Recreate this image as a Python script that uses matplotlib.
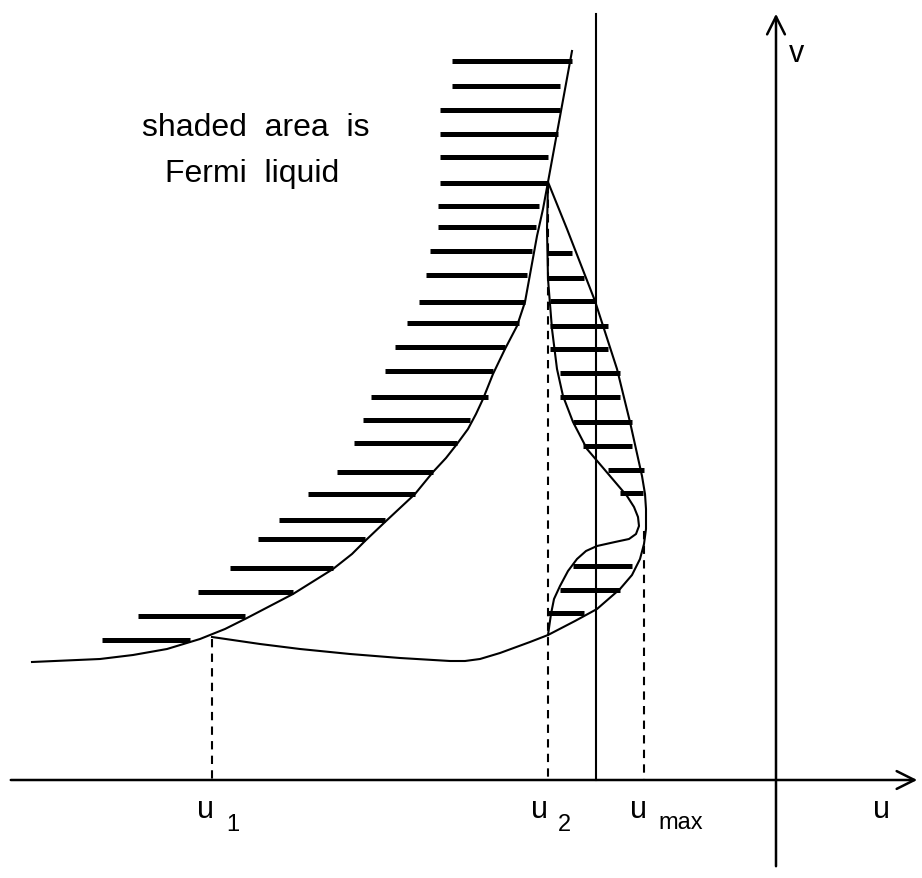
import matplotlib.pyplot as plt

plt.rcParams['font.family'] = ['Liberation Sans', 'DejaVu Sans']

# picture coordinates (pixels, y grows downward)
# hatching of the big left region: y, x start, x end
hatch_l_y = [62, 87, 111, 135, 158, 184, 207, 228, 252, 276, 303, 324, 348, 372,
             398, 421, 444, 473, 495, 521, 540, 569, 593, 617, 641]
hatch_l_x0 = [452, 452, 440, 440, 440, 440, 438, 438, 430, 426, 419, 407, 395, 385,
              371, 363, 354, 337, 308, 279, 258, 230, 198, 138, 102]
hatch_l_x1 = [572, 560, 560, 558, 548, 548, 539, 536, 532, 527, 525, 519, 505, 493,
              488, 470, 457, 433, 415, 385, 365, 333, 293, 245, 190]

# hatching of the small right pocket
hatch_r_y = [254, 279, 302, 327, 350, 374, 398, 423, 447, 471, 494, 567, 591, 614]
hatch_r_x0 = [547, 548, 550, 550, 550, 560, 560, 573, 583, 608, 620, 573, 560, 548]
hatch_r_x1 = [572, 584, 595, 608, 608, 620, 620, 632, 632, 644, 643, 632, 620, 584]

# left boundary curve (bottom left up to the cusp, then straight to top)
main_x = [32, 100, 133, 167, 200, 225, 247, 270, 293, 333, 352, 365, 385, 415, 433,
          446, 457, 468, 476, 483, 493, 505, 517, 525, 531, 537, 543, 548, 572]
main_y = [663, 660, 656, 650, 640, 630, 619, 607, 595, 570, 555, 542, 523, 495, 473,
          459, 445, 430, 415, 400, 375, 350, 327, 303, 270, 237, 210, 183, 52]

# lower curve from u1 round the right side back up to the cusp
outer_x = [212, 260, 300, 350, 400, 450, 465, 480, 500, 530, 548, 575, 597, 620, 632,
           640, 644, 646, 646, 645, 642, 636, 630, 617, 595, 567, 548]
outer_y = [638, 645, 650, 655, 659, 662, 662, 660, 654, 643, 636, 622, 610, 590, 576,
           560, 545, 530, 510, 495, 477, 450, 423, 370, 302, 230, 183]

# inner S-shaped curve from the cusp down to u2
inner_x = [548, 547, 548, 552, 557, 563, 573, 587, 610, 627, 634, 638, 639, 636, 629,
           615, 597, 586, 577, 568, 560, 554, 551, 548]
inner_y = [183, 230, 280, 330, 370, 397, 423, 450, 477, 497, 508, 518, 527, 535, 540,
           543, 547, 552, 560, 572, 587, 600, 615, 636]

# dashed verticals: x, top
dash_x = [212, 548, 644]
dash_top = [640, 186, 532]

axis_y = 781
v_axis_x = 776
wall_x = 596

fig = plt.figure(figsize=(9.22, 8.79), dpi=100)
ax = fig.add_axes([0, 0, 1, 1])
ax.set_xlim(0, 922)
ax.set_ylim(879, 0)
ax.axis('off')

for y, x0, x1 in zip(hatch_l_y, hatch_l_x0, hatch_l_x1):
    ax.plot([x0, x1], [y, y], color='black', lw=3.6, solid_capstyle='butt')
for y, x0, x1 in zip(hatch_r_y, hatch_r_x0, hatch_r_x1):
    ax.plot([x0, x1], [y, y], color='black', lw=3.6, solid_capstyle='butt')

ax.plot(main_x, main_y, color='black', lw=1.5, solid_joinstyle='round')
ax.plot(outer_x, outer_y, color='black', lw=1.5, solid_joinstyle='round')
ax.plot(inner_x, inner_y, color='black', lw=1.5, solid_joinstyle='round')

for x, top in zip(dash_x, dash_top):
    ax.plot([x, x], [top, axis_y], color='black', lw=1.5, linestyle=(0, (4, 3)))

ax.plot([wall_x, wall_x], [15, axis_y], color='black', lw=1.5)

# axes with open arrowheads
ax.annotate('', xy=(920, axis_y), xytext=(8, axis_y),
            arrowprops=dict(arrowstyle='->', lw=1.8, color='black', mutation_scale=32))
ax.annotate('', xy=(v_axis_x, 12), xytext=(v_axis_x, 870),
            arrowprops=dict(arrowstyle='->', lw=1.8, color='black', mutation_scale=32))

ax.text(142, 136, 'shaded  area  is', fontsize=23, va='baseline')
ax.text(165, 182, 'Fermi  liquid', fontsize=23, va='baseline')

ax.text(789, 62, 'v', fontsize=22, va='baseline')
ax.text(873, 818, 'u', fontsize=22, va='baseline')

ax.text(197, 818, 'u', fontsize=22, va='baseline')
ax.text(226, 831, '1', fontsize=17, va='baseline')
ax.text(531, 818, 'u', fontsize=22, va='baseline')
ax.text(558, 831, '2', fontsize=17, va='baseline')
ax.text(630, 818, 'u', fontsize=22, va='baseline')
ax.text(658, 829, 'max', fontsize=17, va='baseline')

fig.savefig('out.png', dpi=100)
